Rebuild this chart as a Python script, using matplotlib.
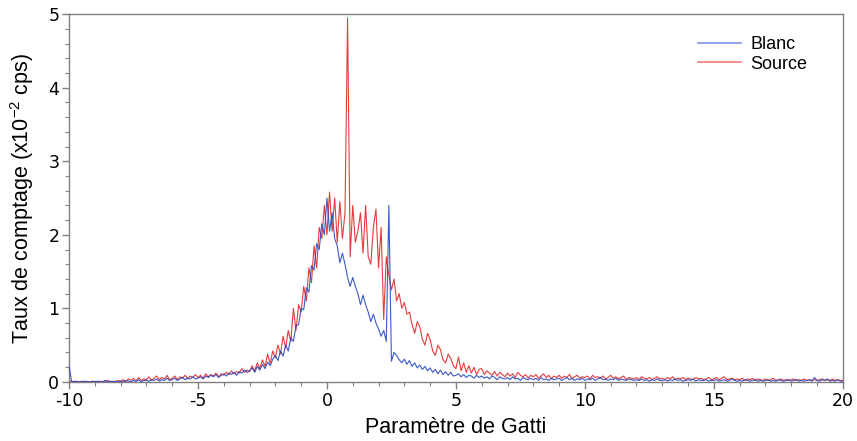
import numpy as np
import matplotlib
matplotlib.use("Agg")
import matplotlib.pyplot as plt

# Gatti parameter axis, 0.1 step from -10 to 20
x_start, x_stop = -10.0, 20.0

# count rate (x1e-2 cps), one row per unit of x
blanc = [
    0.22, 0.01, 0.00, 0.01, 0.00, 0.00, 0.01, 0.00, 0.00, 0.01,
    0.00, 0.01, 0.00, 0.00, 0.02, 0.00, 0.01, 0.00, 0.01, 0.00,
    0.01, 0.00, 0.02, 0.01, 0.00, 0.02, 0.01, 0.03, 0.00, 0.02,
    0.02, 0.01, 0.03, 0.02, 0.04, 0.01, 0.03, 0.02, 0.05, 0.02,
    0.03, 0.05, 0.02, 0.04, 0.06, 0.03, 0.05, 0.04, 0.07, 0.04,
    0.05, 0.07, 0.04, 0.08, 0.06, 0.09, 0.07, 0.10, 0.06, 0.09,
    0.11, 0.08, 0.12, 0.10, 0.13, 0.09, 0.14, 0.12, 0.16, 0.13,
    0.15, 0.19, 0.13, 0.21, 0.16, 0.24, 0.18, 0.27, 0.22, 0.31,
    0.36, 0.29, 0.42, 0.35, 0.50, 0.42, 0.60, 0.55, 0.76, 0.78,
    1.00, 0.98, 1.28, 1.22, 1.58, 1.52, 1.88, 1.80, 2.15, 2.00,
    2.50, 2.05, 2.30, 1.95, 1.85, 1.62, 1.75, 1.60, 1.42, 1.30,
    1.42, 1.30, 1.20, 1.05, 1.18, 1.05, 0.95, 0.82, 0.92, 0.80,
    0.72, 0.62, 0.70, 0.55, 2.40, 0.28, 0.40, 0.36, 0.30, 0.26,
    0.31, 0.24, 0.29, 0.21, 0.26, 0.19, 0.23, 0.17, 0.21, 0.15,
    0.19, 0.13, 0.17, 0.11, 0.16, 0.10, 0.14, 0.09, 0.13, 0.08,
    0.09, 0.11, 0.07, 0.10, 0.06, 0.09, 0.08, 0.05, 0.09, 0.06,
    0.08, 0.05, 0.07, 0.04, 0.08, 0.06, 0.03, 0.07, 0.05, 0.04,
    0.06, 0.03, 0.07, 0.04, 0.05, 0.02, 0.06, 0.04, 0.03, 0.05,
    0.03, 0.05, 0.02, 0.06, 0.03, 0.04, 0.02, 0.05, 0.03, 0.04,
    0.05, 0.02, 0.04, 0.06, 0.03, 0.05, 0.02, 0.04, 0.03, 0.05,
    0.02, 0.04, 0.03, 0.05, 0.02, 0.04, 0.06, 0.03, 0.04, 0.02,
    0.04, 0.03, 0.05, 0.02, 0.04, 0.03, 0.02, 0.04, 0.03, 0.02,
    0.03, 0.02, 0.04, 0.02, 0.03, 0.01, 0.03, 0.02, 0.04, 0.02,
    0.02, 0.03, 0.01, 0.03, 0.02, 0.04, 0.02, 0.03, 0.01, 0.02,
    0.03, 0.02, 0.04, 0.01, 0.03, 0.02, 0.02, 0.03, 0.01, 0.02,
    0.02, 0.03, 0.01, 0.02, 0.03, 0.01, 0.02, 0.04, 0.02, 0.01,
    0.02, 0.01, 0.03, 0.02, 0.01, 0.02, 0.03, 0.01, 0.02, 0.01,
    0.02, 0.03, 0.01, 0.02, 0.01, 0.03, 0.02, 0.01, 0.02, 0.03,
    0.01, 0.02, 0.03, 0.01, 0.02, 0.01, 0.02, 0.03, 0.01, 0.06,
    0.02, 0.01, 0.03, 0.02, 0.04, 0.01, 0.02, 0.01, 0.03, 0.01,
    0.01,
]

source = [
    0.02, 0.00, 0.01, 0.00, 0.00, 0.01, 0.00, 0.01, 0.00, 0.00,
    0.01, 0.00, 0.01, 0.00, 0.01, 0.02, 0.00, 0.01, 0.00, 0.02,
    0.01, 0.03, 0.00, 0.04, 0.02, 0.05, 0.01, 0.06, 0.02, 0.04,
    0.03, 0.07, 0.02, 0.05, 0.08, 0.03, 0.06, 0.04, 0.09, 0.03,
    0.05, 0.08, 0.03, 0.07, 0.05, 0.09, 0.04, 0.08, 0.06, 0.10,
    0.06, 0.09, 0.05, 0.11, 0.07, 0.10, 0.08, 0.12, 0.07, 0.11,
    0.09, 0.13, 0.10, 0.15, 0.11, 0.14, 0.12, 0.18, 0.13, 0.16,
    0.14, 0.22, 0.15, 0.26, 0.18, 0.30, 0.21, 0.38, 0.25, 0.42,
    0.33, 0.50, 0.38, 0.62, 0.46, 0.70, 0.55, 1.00, 0.70, 1.05,
    0.95, 1.30, 1.10, 1.55, 1.35, 1.85, 1.55, 2.10, 1.95, 2.40,
    2.00, 2.58, 2.05, 2.50, 1.90, 2.45, 1.95, 2.30, 4.95, 1.70,
    2.40, 1.90, 2.05, 2.30, 1.75, 2.40, 1.70, 1.60, 2.10, 2.35,
    1.55, 2.10, 0.85, 1.70, 1.45, 1.25, 1.40, 1.10, 1.20, 1.00,
    1.08, 0.92, 0.95, 0.78, 0.66, 0.82, 0.75, 0.58, 0.50, 0.66,
    0.58, 0.42, 0.36, 0.50, 0.44, 0.30, 0.26, 0.38, 0.32, 0.22,
    0.18, 0.34, 0.15, 0.26, 0.13, 0.22, 0.12, 0.20, 0.10, 0.17,
    0.18, 0.10, 0.15, 0.12, 0.09, 0.14, 0.08, 0.13, 0.10, 0.07,
    0.12, 0.08, 0.11, 0.06, 0.13, 0.09, 0.07, 0.10, 0.05, 0.09,
    0.07, 0.10, 0.05, 0.08, 0.11, 0.06, 0.09, 0.04, 0.08, 0.06,
    0.09, 0.05, 0.08, 0.06, 0.10, 0.04, 0.07, 0.09, 0.05, 0.07,
    0.06, 0.08, 0.04, 0.09, 0.06, 0.07, 0.05, 0.08, 0.04, 0.06,
    0.09, 0.05, 0.07, 0.04, 0.06, 0.08, 0.03, 0.06, 0.05, 0.04,
    0.06, 0.03, 0.07, 0.05, 0.04, 0.06, 0.03, 0.05, 0.07, 0.04,
    0.05, 0.03, 0.06, 0.04, 0.07, 0.03, 0.05, 0.04, 0.06, 0.03,
    0.05, 0.04, 0.03, 0.06, 0.04, 0.05, 0.03, 0.04, 0.06, 0.03,
    0.04, 0.06, 0.03, 0.05, 0.07, 0.03, 0.04, 0.05, 0.03, 0.04,
    0.03, 0.05, 0.02, 0.04, 0.03, 0.05, 0.02, 0.04, 0.03, 0.02,
    0.04, 0.02, 0.03, 0.05, 0.02, 0.03, 0.04, 0.02, 0.03, 0.02,
    0.03, 0.04, 0.02, 0.03, 0.02, 0.04, 0.02, 0.03, 0.02, 0.03,
    0.02, 0.03, 0.04, 0.02, 0.03, 0.02, 0.04, 0.02, 0.03, 0.02,
    0.02,
]

x = np.linspace(x_start, x_stop, len(blanc))

plt.rcParams['axes.unicode_minus'] = False
plt.rcParams['mathtext.fontset'] = 'custom'
plt.rcParams['mathtext.rm'] = 'Liberation Sans'

fig = plt.figure(figsize=(8.57, 4.41), dpi=100)
ax = fig.add_axes([0.0805, 0.134, 0.903, 0.834])

ax.plot(x, source, color='#e02828', lw=0.8, alpha=0.9, label='Source', zorder=2)
ax.plot(x, blanc, color='#2848c0', lw=0.8, alpha=0.9, label='Blanc', zorder=3)

ax.set_xlim(-10, 20)
ax.set_ylim(0, 5)
ax.set_xticks(np.arange(-10, 21, 5))
ax.set_xticks(np.arange(-10, 21, 1), minor=True)
ax.set_yticks(np.arange(0, 6, 1))
ax.set_yticks(np.arange(0, 5.01, 0.2), minor=True)

for sp in ax.spines.values():
    sp.set_color('#808080')
    sp.set_linewidth(1.0)
ax.tick_params(which='major', length=5, width=1, color='#808080',
               labelsize=12.5, pad=2)
ax.tick_params(which='minor', length=3, width=0.8, color='#808080')
for lbl in ax.get_xticklabels() + ax.get_yticklabels():
    lbl.set_family('DejaVu Sans')

ax.set_xlabel('Paramètre de Gatti', fontsize=15.5, family='Liberation Sans',
              labelpad=5)
ax.set_ylabel(r'Taux de comptage (x10$^{\mathrm{-2}}$ cps)', fontsize=15.5,
              family='Liberation Sans', labelpad=9)

# legend order: Blanc first
h, l = ax.get_legend_handles_labels()
leg = ax.legend(h[::-1], l[::-1], loc='upper right', frameon=False,
                prop={'family': 'Liberation Sans', 'size': 13},
                handlelength=2.4, handletextpad=0.5, labelspacing=0.15,
                bbox_to_anchor=(0.975, 0.985))
leg_colors = ['#7f92ea', '#f07a7a']
for line, c in zip(leg.get_lines(), leg_colors):
    line.set_color(c)
    line.set_alpha(1.0)
    line.set_linewidth(1.2)

fig.savefig('out.png', dpi=100)
